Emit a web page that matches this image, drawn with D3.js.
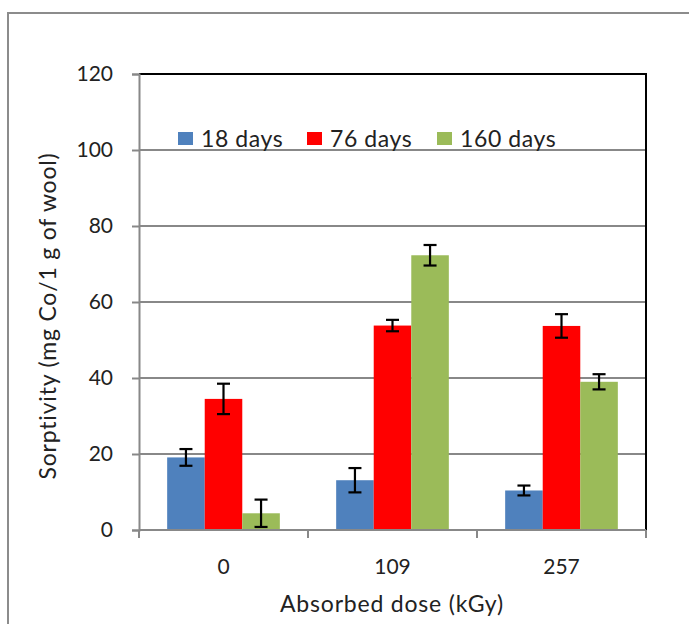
<html>
<head>
<style>
  body { margin: 0; background: white; font-family: Lato, "Open Sans", sans-serif; }
</style>
<script src="https://cdn.jsdelivr.net/npm/d3@7"></script>
</head>
<body>
<svg id="chart"></svg>
<script>
// data
let doses = ["0", "109", "257"]
let seriesNames = ["18 days", "76 days", "160 days"]
let seriesColors = ["#4F81BD", "#FF0000", "#9BBB59"]
let values18 = [19.1, 13.1, 10.4]
let values76 = [34.5, 53.8, 53.7]
let values160 = [4.4, 72.3, 39.0]
let err18 = [2.2, 3.2, 1.3]
let err76 = [4.0, 1.5, 3.1]
let err160 = [3.6, 2.7, 2.0]
let yTicks = [0, 20, 40, 60, 80, 100, 120]

let width = 689, height = 624
let margin = {left: 139, top: 74, right: 43, bottom: 94}
let svg = d3.select("#chart").attr("width", width).attr("height", height)

// outer frame of the chart object
svg.append("rect")
  .attr("x", 8).attr("y", 13)
  .attr("width", 700).attr("height", 640)
  .attr("fill", "none").attr("stroke", "#8c8c8c").attr("stroke-width", 2)

let x0 = d3.scaleBand().domain(doses)
  .range([margin.left, width - margin.right])
let y = d3.scaleLinear().domain([0, 120])
  .range([height - margin.bottom, margin.top])

// bars: 3 bars + 150% gap per band (Excel gap width)
let groupPad = x0.bandwidth() * 0.75 / 4.5
let x1 = d3.scaleBand().domain(seriesNames)
  .range([groupPad, x0.bandwidth() - groupPad])

// gridlines
svg.append("g").selectAll("line").data(yTicks.filter(t => t > 0 && t < 120))
  .enter().append("line")
  .attr("x1", margin.left).attr("x2", width - margin.right)
  .attr("y1", d => y(d)).attr("y2", d => y(d))
  .attr("stroke", "#888").attr("stroke-width", 2)

// plot frame top/right in black
svg.append("path")
  .attr("d", `M${margin.left},${y(120)}H${width - margin.right}V${y(0)}`)
  .attr("fill", "none").attr("stroke", "black").attr("stroke-width", 2)

let rows = seriesNames.map((name, i) => ({
  name: name,
  color: seriesColors[i],
  vals: [values18, values76, values160][i],
  errs: [err18, err76, err160][i]
}))

let bars = []
rows.forEach(r => doses.forEach((d, j) => {
  bars.push({dose: d, name: r.name, color: r.color, v: r.vals[j], e: r.errs[j]})
}))

svg.append("g").selectAll("rect").data(bars)
  .enter().append("rect")
  .attr("x", d => x0(d.dose) + x1(d.name))
  .attr("y", d => y(d.v))
  .attr("width", x1.bandwidth())
  .attr("height", d => y(0) - y(d.v))
  .attr("fill", d => d.color)

// error bars
let eb = svg.append("g").attr("stroke", "black").attr("stroke-width", 2.2)
bars.forEach(d => {
  let cx = x0(d.dose) + x1(d.name) + x1.bandwidth() / 2
  let top = y(d.v + d.e), bot = y(Math.max(0, d.v - d.e))
  eb.append("line").attr("x1", cx).attr("x2", cx).attr("y1", top).attr("y2", bot)
  eb.append("line").attr("x1", cx - 6.5).attr("x2", cx + 6.5).attr("y1", top).attr("y2", top)
  eb.append("line").attr("x1", cx - 6.5).attr("x2", cx + 6.5).attr("y1", bot).attr("y2", bot)
})

// y axis
let yAxis = svg.append("g")
  .attr("transform", `translate(${margin.left},0)`)
  .call(d3.axisLeft(y).tickValues(yTicks).tickSize(7).tickPadding(19))
yAxis.select(".domain").attr("stroke", "#888").attr("stroke-width", 2)
yAxis.selectAll(".tick line").attr("stroke", "#888").attr("stroke-width", 2)
yAxis.selectAll("text").attr("font-size", 21).attr("fill", "#222")
  .attr("font-family", "Lato, sans-serif")

// x axis: ticks between categories
let xAxis = svg.append("g").attr("transform", `translate(0,${y(0)})`)
xAxis.append("line")
  .attr("x1", margin.left).attr("x2", width - margin.right)
  .attr("stroke", "#888").attr("stroke-width", 2)
let bounds = doses.map(d => x0(d)).concat([width - margin.right])
xAxis.selectAll(".tk").data(bounds).enter().append("line")
  .attr("x1", d => d).attr("x2", d => d).attr("y1", 0).attr("y2", 8)
  .attr("stroke", "#888").attr("stroke-width", 2)
xAxis.selectAll("text").data(doses).enter().append("text")
  .attr("x", d => x0(d) + x0.bandwidth() / 2)
  .attr("y", 44)
  .attr("text-anchor", "middle")
  .attr("font-size", 21).attr("fill", "#222")
  .text(d => d)

// axis titles
svg.append("text")
  .attr("x", 392).attr("y", 612)
  .attr("text-anchor", "middle").attr("font-size", 23).attr("fill", "#222")
  .attr("letter-spacing", 0.8)
  .text("Absorbed dose (kGy)")
svg.append("text")
  .attr("transform", "translate(56,316) rotate(-90)")
  .attr("text-anchor", "middle").attr("font-size", 23).attr("fill", "#222")
  .attr("letter-spacing", 0.8)
  .text("Sorptivity (mg Co/1 g of wool)")

// legend
let legendX = [178, 307, 437]
let legend = svg.append("g")
rows.forEach((r, i) => {
  legend.append("rect")
    .attr("x", legendX[i]).attr("y", 132)
    .attr("width", 15).attr("height", 13)
    .attr("fill", r.color)
  legend.append("text")
    .attr("x", legendX[i] + 23).attr("y", 147)
    .attr("font-size", 23).attr("fill", "#222")
    .attr("letter-spacing", 0.6)
    .text(r.name)
})
</script>
</body>
</html>
